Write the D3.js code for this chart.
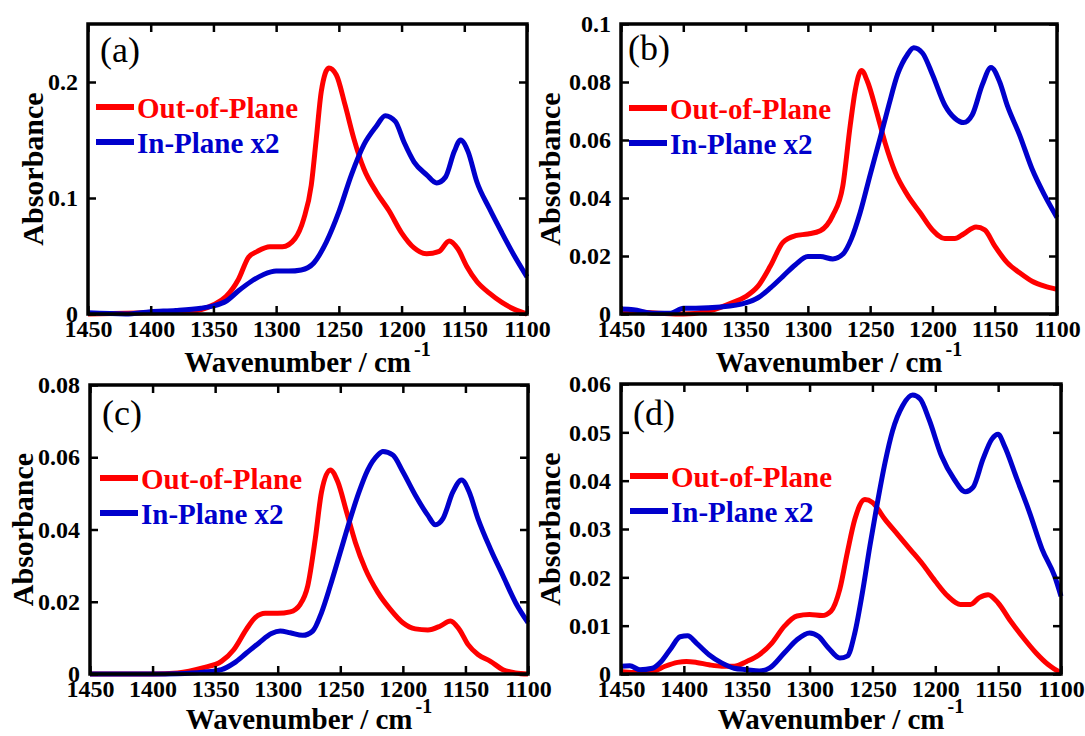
<!DOCTYPE html>
<html>
<head>
<meta charset="utf-8">
<script src="https://d3js.org/d3.v7.min.js"></script>
<style>
    body { margin: 0; background: #fff; }
    text { font-family: "Liberation Serif", "Times New Roman", serif; }
</style>
</head>
<body>
<svg width="1085" height="736"></svg>
<script>
    // wavenumber ticks shared by all panels
    var xTicks = [1450, 1400, 1350, 1300, 1250, 1200, 1150, 1100];

    // (a) [wavenumber, absorbance]
    var outA = [[1450,0],[1400,0.001],[1370,0.002],[1350,0.008],[1340,0.015],[1330,0.030],[1322,0.049],[1315,0.054],[1305,0.058],[1295,0.058],[1285,0.065],[1278,0.082],[1272,0.111],[1268,0.151],[1264,0.192],[1258,0.212],[1252,0.206],[1245,0.180],[1238,0.151],[1230,0.125],[1220,0.105],[1210,0.089],[1200,0.070],[1190,0.057],[1180,0.052],[1170,0.054],[1162,0.063],[1155,0.056],[1148,0.041],[1140,0.028],[1130,0.018],[1120,0.010],[1110,0.004],[1100,0]];
    var inA = [[1450,0.001],[1420,0],[1400,0.002],[1380,0.003],[1360,0.005],[1350,0.007],[1340,0.011],[1330,0.020],[1320,0.028],[1310,0.034],[1300,0.037],[1290,0.037],[1280,0.038],[1270,0.044],[1260,0.062],[1250,0.088],[1240,0.120],[1230,0.146],[1220,0.162],[1213,0.171],[1205,0.166],[1198,0.148],[1190,0.131],[1180,0.120],[1172,0.113],[1165,0.118],[1158,0.140],[1153,0.150],[1147,0.140],[1140,0.114],[1130,0.091],[1120,0.070],[1110,0.050],[1100,0.032]];

    // (b)
    var outB = [[1450,0.001],[1420,0.0003],[1400,0],[1380,0.001],[1360,0.004],[1350,0.006],[1340,0.0096],[1330,0.0166],[1320,0.0247],[1310,0.027],[1300,0.0276],[1290,0.0287],[1280,0.034],[1272,0.044],[1266,0.065],[1262,0.077],[1257,0.084],[1252,0.080],[1245,0.070],[1238,0.059],[1230,0.049],[1220,0.041],[1210,0.035],[1200,0.029],[1190,0.026],[1182,0.026],[1175,0.0276],[1165,0.030],[1158,0.029],[1150,0.0235],[1140,0.0177],[1130,0.0142],[1120,0.0113],[1110,0.0096],[1100,0.0085]];
    var inB = [[1450,0.0017],[1440,0.0015],[1425,0.0003],[1410,0.0003],[1400,0.002],[1390,0.002],[1370,0.0024],[1350,0.0038],[1340,0.0056],[1330,0.009],[1320,0.013],[1310,0.017],[1300,0.0198],[1290,0.0198],[1280,0.019],[1272,0.0206],[1265,0.026],[1258,0.035],[1250,0.048],[1242,0.0606],[1235,0.072],[1228,0.0826],[1220,0.0895],[1215,0.0918],[1208,0.090],[1200,0.0826],[1190,0.072],[1182,0.0675],[1175,0.066],[1168,0.0687],[1160,0.079],[1153,0.085],[1146,0.080],[1140,0.072],[1130,0.0617],[1120,0.050],[1110,0.041],[1100,0.0333]];

    // (c)
    var outC = [[1450,0],[1420,0],[1400,0],[1380,0.0003],[1360,0.0017],[1345,0.0035],[1335,0.0068],[1325,0.0124],[1318,0.0156],[1310,0.0168],[1300,0.0168],[1290,0.0172],[1282,0.0193],[1276,0.0244],[1270,0.0374],[1265,0.0504],[1258,0.0565],[1252,0.0532],[1245,0.0449],[1238,0.0365],[1230,0.0291],[1220,0.0226],[1210,0.0179],[1200,0.0142],[1190,0.0125],[1180,0.0122],[1170,0.0133],[1162,0.0147],[1155,0.0124],[1148,0.0082],[1140,0.0054],[1130,0.0035],[1120,0.0012],[1110,0.0003],[1100,0]];
    var inC = [[1450,0],[1400,0],[1380,0.0001],[1360,0.0005],[1345,0.0012],[1335,0.003],[1325,0.0058],[1315,0.0086],[1305,0.0112],[1298,0.0119],[1290,0.0114],[1280,0.0107],[1272,0.0119],[1265,0.017],[1258,0.0244],[1250,0.0337],[1242,0.043],[1235,0.0504],[1228,0.0565],[1220,0.0606],[1216,0.0616],[1208,0.0606],[1200,0.056],[1190,0.0495],[1180,0.0439],[1174,0.0413],[1168,0.043],[1160,0.0504],[1153,0.0537],[1147,0.0504],[1140,0.043],[1130,0.0346],[1120,0.0272],[1110,0.0198],[1100,0.0142]];

    // (d)
    var outD = [[1450,0.0005],[1440,0.0003],[1425,0.0005],[1415,0.0016],[1405,0.0024],[1398,0.0026],[1390,0.0024],[1380,0.0019],[1370,0.0016],[1360,0.0016],[1350,0.0026],[1340,0.004],[1330,0.0064],[1320,0.0099],[1310,0.012],[1300,0.0123],[1290,0.0121],[1283,0.013],[1276,0.0175],[1270,0.0251],[1264,0.032],[1256,0.0361],[1250,0.0355],[1240,0.032],[1230,0.0289],[1220,0.0258],[1210,0.0227],[1200,0.0192],[1190,0.0161],[1180,0.0144],[1172,0.0144],[1165,0.0158],[1158,0.0164],[1150,0.0147],[1140,0.0109],[1130,0.0075],[1120,0.0044],[1110,0.0019],[1100,0.0002]];
    var inD = [[1450,0.0016],[1443,0.0017],[1435,0.0009],[1425,0.0012],[1418,0.0026],[1410,0.0054],[1403,0.0077],[1397,0.0079],[1390,0.0064],[1380,0.004],[1370,0.0023],[1360,0.0012],[1350,0.0009],[1340,0.0006],[1332,0.0012],[1320,0.0044],[1310,0.0071],[1300,0.0085],[1293,0.0078],[1285,0.0054],[1276,0.0033],[1270,0.0037],[1264,0.0085],[1258,0.0168],[1252,0.0265],[1246,0.0355],[1240,0.0437],[1234,0.0503],[1226,0.0555],[1218,0.0577],[1212,0.0569],[1205,0.0527],[1195,0.0451],[1185,0.0403],[1176,0.0377],[1170,0.0386],[1162,0.0445],[1155,0.0486],[1150,0.0496],[1145,0.0472],[1135,0.0403],[1125,0.0334],[1115,0.0258],[1105,0.0202],[1100,0.0161]];

    var yMaxes = [0.25, 0.1, 0.08, 0.06];
    var yTicksA = [0, 0.1, 0.2];
    var yTicksB = [0, 0.02, 0.04, 0.06, 0.08, 0.1];
    var yTicksC = [0, 0.02, 0.04, 0.06, 0.08];
    var yTicksD = [0, 0.01, 0.02, 0.03, 0.04, 0.05, 0.06];
    var labels = ["(a)", "(b)", "(c)", "(d)"];
    var seriesNames = ["Out-of-Plane", "In-Plane x2"];

    var red = "#ff0000", blue = "#0000cc";

    // frame boxes [left, right, top, bottom] + per-panel offsets
    var panels = [
        {box: [88, 527, 24, 314], out: outA, inp: inA, ymax: yMaxes[0], yt: yTicksA, lab: [12, 38], leg: [8, 83], ytb: 45, xtb: 58},
        {box: [621, 1057, 24, 314], out: outB, inp: inB, ymax: yMaxes[1], yt: yTicksB, lab: [7, 36], leg: [8, 84], ytb: 61, xtb: 58},
        {box: [90, 528, 385, 674], out: outC, inp: inC, ymax: yMaxes[2], yt: yTicksC, lab: [12, 40], leg: [10, 93], ytb: 57, xtb: 55},
        {box: [621, 1061, 384, 674], out: outD, inp: inD, ymax: yMaxes[3], yt: yTicksD, lab: [12, 41], leg: [9, 92], ytb: 61, xtb: 55}
    ];

    var svg = d3.select("svg");
    svg.append("rect").attr("width", 1085).attr("height", 736).attr("fill", "#fff");

    function fmt(d) {
        return d === 0 ? "0" : String(+d.toFixed(3));
    }

    function styleAxis(a, withText) {
        a.select(".domain").remove();
        a.selectAll("line").attr("stroke-width", 2.5);
        if (withText) {
            a.selectAll("text").attr("font-size", 24).attr("font-weight", "bold")
                .attr("fill", "#000").attr("font-family", "Liberation Serif, serif");
        }
    }

    panels.forEach(function(p, i) {
        var L = p.box[0], R = p.box[1], T = p.box[2], B = p.box[3];
        var x = d3.scaleLinear().domain([1450, 1100]).range([L, R]);
        var y = d3.scaleLinear().domain([0, p.ymax]).range([B, T]);
        var g = svg.append("g");

        var line = d3.line()
            .x(function(d) { return x(d[0]); })
            .y(function(d) { return y(d[1]); })
            .curve(d3.curveMonotoneX);

        g.append("path").datum(p.out)
            .attr("d", line).attr("fill", "none")
            .attr("stroke", red).attr("stroke-width", 5).attr("stroke-linejoin", "round");
        g.append("path").datum(p.inp)
            .attr("d", line).attr("fill", "none")
            .attr("stroke", blue).attr("stroke-width", 5).attr("stroke-linejoin", "round");

        // axes: bottom/left labelled, top/right ticks only, all ticks inward
        g.append("g").attr("transform", "translate(0," + B + ")")
            .call(d3.axisBottom(x).tickValues(xTicks).tickSize(-8).tickPadding(6).tickFormat(d3.format("d")))
            .call(styleAxis, true);
        g.append("g").attr("transform", "translate(0," + T + ")")
            .call(d3.axisTop(x).tickValues(xTicks).tickSize(-8).tickFormat(""))
            .call(styleAxis, false);
        g.append("g").attr("transform", "translate(" + L + ",0)")
            .call(d3.axisLeft(y).tickValues(p.yt).tickSize(-8).tickPadding(10).tickFormat(fmt))
            .call(styleAxis, true);
        g.append("g").attr("transform", "translate(" + R + ",0)")
            .call(d3.axisRight(y).tickValues(p.yt).tickSize(-8).tickFormat(""))
            .call(styleAxis, false);

        g.append("rect")
            .attr("x", L).attr("y", T)
            .attr("width", R - L).attr("height", B - T)
            .attr("fill", "none").attr("stroke", "#000").attr("stroke-width", 3.5);

        // panel letter
        g.append("text")
            .attr("x", L + p.lab[0]).attr("y", T + p.lab[1])
            .attr("font-size", 36).text(labels[i]);

        // legend
        [red, blue].forEach(function(c, k) {
            var ly = T + p.leg[1] + k * 35;
            g.append("line")
                .attr("x1", L + p.leg[0]).attr("x2", L + p.leg[0] + 38)
                .attr("y1", ly).attr("y2", ly)
                .attr("stroke", c).attr("stroke-width", 6);
            g.append("text")
                .attr("x", L + p.leg[0] + 41).attr("y", ly + 11)
                .attr("font-size", 29).attr("font-weight", "bold")
                .attr("fill", c).text(seriesNames[k]);
        });

        // x title: "Wavenumber / cm" + raised -1, the pair centred under the frame
        var xt = g.append("text")
            .attr("y", B + p.xtb)
            .attr("font-size", 29).attr("font-weight", "bold")
            .text("Wavenumber / cm");
        var sup = g.append("text")
            .attr("y", B + p.xtb - 16)
            .attr("font-size", 20).attr("font-weight", "bold")
            .text("-1");
        var w1 = xt.node().getComputedTextLength();
        var w2 = sup.node().getComputedTextLength();
        var x0 = (L + R) / 2 - (w1 + 3 + w2) / 2;
        xt.attr("x", x0);
        sup.attr("x", x0 + w1 + 3);

        g.append("text")
            .attr("transform", "translate(" + (L - p.ytb) + "," + ((T + B) / 2) + ") rotate(-90)")
            .attr("text-anchor", "middle")
            .attr("font-size", 30).attr("font-weight", "bold")
            .text("Absorbance");
    });
</script>
</body>
</html>
